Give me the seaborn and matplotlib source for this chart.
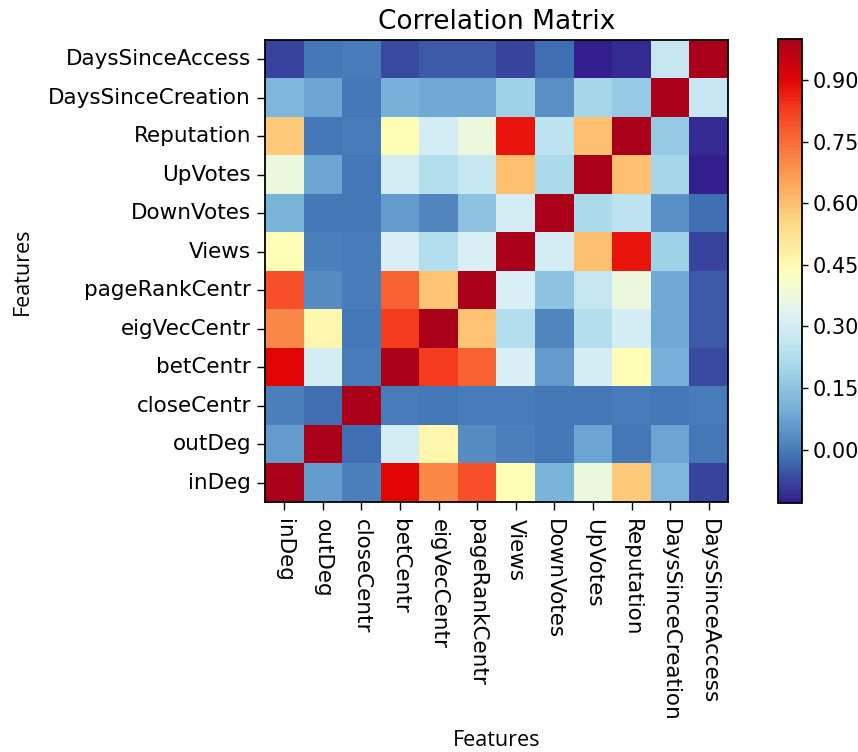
import numpy as np
import pandas as pd
import matplotlib
matplotlib.use("Agg")
import matplotlib.pyplot as plt
from matplotlib.colors import LinearSegmentedColormap
import seaborn as sns

# Feature names, in matrix order (inDeg first -> bottom row / left column)
features = ["inDeg", "outDeg", "closeCentr", "betCentr", "eigVecCentr",
            "pageRankCentr", "Views", "DownVotes", "UpVotes", "Reputation",
            "DaysSinceCreation", "DaysSinceAccess"]

# Pairwise correlation coefficients, one row per feature
r_inDeg         = [1.00, 0.06, 0.01, 0.90, 0.70, 0.80, 0.44, 0.11, 0.37, 0.58, 0.12, -0.08]
r_outDeg        = [0.06, 1.00, -0.02, 0.30, 0.46, 0.03, 0.01, -0.01, 0.08, -0.01, 0.08, -0.01]
r_closeCentr    = [0.01, -0.02, 1.00, 0.00, -0.01, 0.00, 0.00, -0.01, -0.01, 0.00, -0.01, 0.00]
r_betCentr      = [0.90, 0.30, 0.00, 1.00, 0.83, 0.77, 0.31, 0.06, 0.30, 0.44, 0.10, -0.07]
r_eigVecCentr   = [0.70, 0.46, -0.01, 0.83, 1.00, 0.59, 0.23, 0.02, 0.23, 0.30, 0.09, -0.05]
r_pageRankCentr = [0.80, 0.03, 0.00, 0.77, 0.59, 1.00, 0.31, 0.15, 0.27, 0.37, 0.09, -0.05]
r_Views         = [0.44, 0.01, 0.00, 0.31, 0.23, 0.31, 1.00, 0.30, 0.60, 0.88, 0.19, -0.08]
r_DownVotes     = [0.11, -0.01, -0.01, 0.06, 0.02, 0.15, 0.30, 1.00, 0.21, 0.25, 0.04, -0.02]
r_UpVotes       = [0.37, 0.08, -0.01, 0.30, 0.23, 0.27, 0.60, 0.21, 1.00, 0.60, 0.20, -0.13]
r_Reputation    = [0.58, -0.01, 0.00, 0.44, 0.30, 0.37, 0.88, 0.25, 0.60, 1.00, 0.17, -0.11]
r_DaysSinceCreation = [0.12, 0.08, -0.01, 0.10, 0.09, 0.09, 0.19, 0.04, 0.20, 0.17, 1.00, 0.27]
r_DaysSinceAccess   = [-0.08, -0.01, 0.00, -0.07, -0.05, -0.05, -0.08, -0.02, -0.13, -0.11, 0.27, 1.00]

cbar_ticks = [0.00, 0.15, 0.30, 0.45, 0.60, 0.75, 0.90]

corr = pd.DataFrame(
    [r_inDeg, r_outDeg, r_closeCentr, r_betCentr, r_eigVecCentr, r_pageRankCentr,
     r_Views, r_DownVotes, r_UpVotes, r_Reputation, r_DaysSinceCreation, r_DaysSinceAccess],
    index=features, columns=features,
)

# vivid red-yellow-blue diverging colormap
_stops = [
    (0.00, (50, 30, 140)),
    (0.10, (65, 115, 180)),
    (0.20, (115, 175, 215)),
    (0.30, (170, 218, 235)),
    (0.40, (222, 242, 248)),
    (0.50, (255, 255, 185)),
    (0.60, (254, 218, 135)),
    (0.70, (254, 160, 85)),
    (0.80, (248, 95, 50)),
    (0.85, (245, 60, 30)),
    (0.91, (228, 5, 5)),
    (1.00, (170, 0, 25)),
]
cmap = LinearSegmentedColormap.from_list(
    "rdylbu_vivid", [(p, tuple(c / 255 for c in rgb)) for p, rgb in _stops], N=256)

sns.set_style("ticks")
plt.rcParams["font.family"] = ["DejaVu Sans"]
plt.rcParams["text.color"] = "black"
plt.rcParams["xtick.color"] = "black"
plt.rcParams["ytick.color"] = "black"
plt.rcParams["axes.labelcolor"] = "black"

W, H = 858, 752
fig = plt.figure(figsize=(W / 100, H / 100), dpi=100)
ax = fig.add_axes([265 / W, 1 - 502 / H, 463 / W, 462 / H])
cax = fig.add_axes([778 / W, 1 - 503 / H, 24 / W, 464 / H])

# origin at the lower left: first feature drawn in the bottom row
plot_df = corr.iloc[::-1]
sns.heatmap(plot_df, ax=ax, cbar_ax=cax, cmap=cmap,
            vmin=corr.values.min(), vmax=corr.values.max(),
            cbar_kws={"ticks": cbar_ticks, "format": "%.2f"})

for s in ax.spines.values():
    s.set_visible(True)
    s.set_color("black")
    s.set_linewidth(1.3)

ax.set_xticks(np.arange(len(features)) + 0.5)
ax.set_xticklabels(features, rotation=270, fontsize=15.5, va="top", ha="center",
                   color="black")
ax.set_yticks(np.arange(len(features)) + 0.5)
ax.set_yticklabels(plot_df.index, rotation=0, fontsize=15.5, color="black")
ax.tick_params(axis="both", length=6, width=1, direction="out", color="black", pad=4)
ax.tick_params(axis="x", pad=6)

ax.set_title("Correlation Matrix", fontsize=19, pad=8, color="black")
ax.set_xlabel("Features", fontsize=15.5, family=["Open Sans", "DejaVu Sans"], color="black")
ax.set_ylabel("Features", fontsize=15.5, family=["Open Sans", "DejaVu Sans"], color="black")
ax.xaxis.label.set_va("center")
ax.yaxis.label.set_va("center")
ax.xaxis.set_label_coords(0.5, (502 - 741) / 462)
ax.yaxis.set_label_coords((22 - 265) / 463, 0.5)

cbar = ax.collections[0].colorbar
cbar.outline.set_visible(True)
cbar.outline.set_linewidth(1.3)
cbar.outline.set_edgecolor("black")
cax.tick_params(labelsize=15, length=4, width=1, direction="out", color="black",
                labelcolor="black")

fig.savefig("out.png", dpi=100, facecolor="white")
